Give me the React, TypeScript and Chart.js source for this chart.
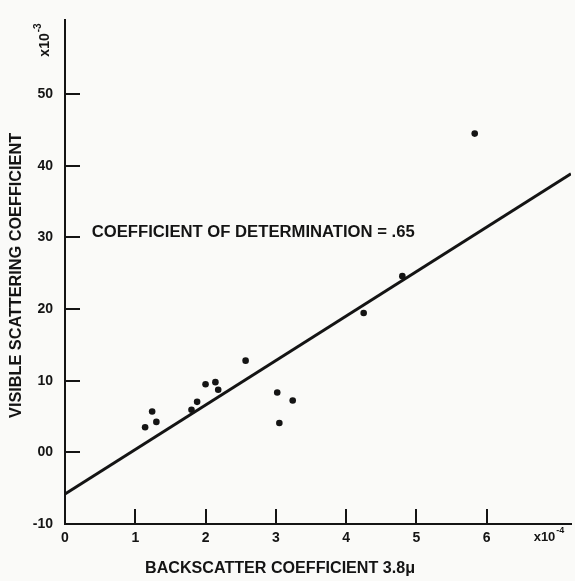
import React, { useEffect, useRef } from "react";
import { Chart, registerables } from "chart.js";
Chart.register(...registerables);

// ---- data ----
const backscatterX = [1.14, 1.24, 1.3, 1.8, 1.88, 2.0, 2.14, 2.18, 2.57, 3.02, 3.05, 3.24, 4.25, 4.8, 5.83];
const visibleY = [3.5, 5.7, 4.25, 5.95, 7.05, 9.5, 9.8, 8.75, 12.8, 8.35, 4.1, 7.25, 19.45, 24.6, 44.5];
const fitX = [0, 7.2];
const fitY = [-5.8, 38.9];
const xTicks = [0, 1, 2, 3, 4, 5, 6];
const xTickLabels = ["0", "1", "2", "3", "4", "5", "6"];
const yTicks = [-10, 0, 10, 20, 30, 40, 50];
const yTickLabels = ["-10", "00", "10", "20", "30", "40", "50"];
const xTitle = "BACKSCATTER COEFFICIENT 3.8\u03bc";
const yTitle = "VISIBLE SCATTERING COEFFICIENT";
const annotationText = "COEFFICIENT OF DETERMINATION = .65";
const annotationAt = [0.38, 30.7];
const xMultiplier = ["x10", "-4"];
const yMultiplier = ["x10", "-3"];

const FONT = "'Liberation Sans', Arial, Helvetica, sans-serif";
const INK = "#141414";

function drawStretched(ctx: CanvasRenderingContext2D, text: string, cx: number, cy: number, size: number, target: number, rot: number) {
  ctx.save();
  ctx.font = `bold ${size}px ${FONT}`;
  const w = ctx.measureText(text).width;
  ctx.translate(cx, cy);
  ctx.rotate(rot);
  ctx.scale(target / w, 1);
  ctx.textAlign = "center";
  ctx.textBaseline = "middle";
  ctx.fillStyle = INK;
  ctx.fillText(text, 0, 0);
  ctx.restore();
}

function drawMultiplier(ctx: CanvasRenderingContext2D, parts: string[], x: number, y: number, rot: number, size: number) {
  const sup = Math.round(size * 0.7);
  ctx.save();
  ctx.translate(x, y);
  ctx.rotate(rot);
  ctx.fillStyle = INK;
  ctx.textBaseline = "middle";
  ctx.textAlign = "left";
  ctx.font = `bold ${size}px ${FONT}`;
  const w1 = ctx.measureText(parts[0]).width;
  ctx.font = `bold ${sup}px ${FONT}`;
  const w2 = ctx.measureText(parts[1]).width;
  const start = -(w1 + w2 + 1) / 2;
  ctx.font = `bold ${size}px ${FONT}`;
  ctx.fillText(parts[0], start, 0);
  ctx.font = `bold ${sup}px ${FONT}`;
  ctx.fillText(parts[1], start + w1 + 1, -size * 0.5);
  ctx.restore();
}

const decorPlugin = {
  id: "decor",
  beforeDraw(chart: any) {
    const ctx = chart.ctx as CanvasRenderingContext2D;
    ctx.save();
    ctx.fillStyle = "#fafaf8";
    ctx.fillRect(0, 0, chart.width, chart.height);
    ctx.restore();
  },
  afterDraw(chart: any) {
    const ctx = chart.ctx as CanvasRenderingContext2D;
    const xs = chart.scales.x;
    const ys = chart.scales.y;
    const area = chart.chartArea;
    ctx.save();
    ctx.strokeStyle = INK;
    ctx.lineWidth = 2;
    ctx.beginPath();
    yTicks.forEach((v) => {
      if (v === yTicks[0]) return;
      const py = Math.round(ys.getPixelForValue(v));
      ctx.moveTo(area.left, py);
      ctx.lineTo(area.left + 15, py);
    });
    xTicks.forEach((v) => {
      if (v === xTicks[0]) return;
      const px = Math.round(xs.getPixelForValue(v));
      ctx.moveTo(px, area.bottom);
      ctx.lineTo(px, area.bottom - 15);
    });
    ctx.stroke();
    ctx.restore();

    // annotation
    const target = 323;
    drawStretched(ctx, annotationText, xs.getPixelForValue(annotationAt[0]) + target / 2, ys.getPixelForValue(annotationAt[1]), 16, target, 0);

    // axis titles
    drawStretched(ctx, xTitle, xs.getPixelForValue(3.06), chart.height - 12, 16, 270, 0);
    drawStretched(ctx, yTitle, 17, ys.getPixelForValue(24.7), 16, 285, -Math.PI / 2);

    // multipliers
    drawMultiplier(ctx, xMultiplier, 549, 537, 0, 13);
    drawMultiplier(ctx, yMultiplier, 45, 40, -Math.PI / 2, 14);
  },
};

export default function App() {
  const ref = useRef<HTMLCanvasElement | null>(null);
  useEffect(() => {
    document.body.style.margin = "0";
    const canvas = ref.current;
    if (!canvas) return;
    const points = backscatterX.map((x, i) => ({ x, y: visibleY[i] }));
    const fit = fitX.map((x, i) => ({ x, y: fitY[i] }));
    const chart = new Chart(canvas, {
      type: "scatter",
      data: {
        datasets: [
          {
            type: "line",
            data: fit,
            borderColor: INK,
            borderWidth: 3,
            pointRadius: 0,
            showLine: true,
            fill: false,
          } as any,
          {
            type: "scatter",
            data: points,
            backgroundColor: INK,
            borderColor: INK,
            borderWidth: 0,
            pointRadius: 3.3,
          },
        ],
      },
      options: {
        responsive: false,
        animation: false,
        events: [],
        layout: { padding: { top: 12, right: 0, left: 0, bottom: 0 } },
        plugins: { legend: { display: false }, tooltip: { enabled: false } },
        scales: {
          x: {
            type: "linear",
            min: 0,
            max: 7.2,
            grid: { display: false, drawTicks: false },
            border: { display: true, color: INK, width: 2 },
            afterBuildTicks: (s: any) => {
              s.ticks = xTicks.map((v) => ({ value: v }));
            },
            afterFit: (s: any) => {
              s.height = 57;
            },
            ticks: {
              autoSkip: false,
              maxRotation: 0,
              padding: 6,
              color: INK,
              font: { family: FONT, size: 14, weight: "bold" },
              callback: (v: any) => {
                const i = xTicks.indexOf(Number(v));
                return i >= 0 ? xTickLabels[i] : "";
              },
            },
          },
          y: {
            type: "linear",
            min: -10,
            max: 60.3,
            grid: { display: false, drawTicks: false },
            border: { display: true, color: INK, width: 2 },
            afterBuildTicks: (s: any) => {
              s.ticks = yTicks.map((v) => ({ value: v }));
            },
            afterFit: (s: any) => {
              s.width = 65;
            },
            ticks: {
              autoSkip: false,
              padding: 12,
              color: INK,
              font: { family: FONT, size: 14, weight: "bold" },
              callback: (v: any) => {
                const i = yTicks.indexOf(Number(v));
                return i >= 0 ? yTickLabels[i] : "";
              },
            },
          },
        },
      },
      plugins: [decorPlugin],
    });
    return () => chart.destroy();
  }, []);
  return <canvas ref={ref} width={575} height={581} style={{ display: "block", width: 575, height: 581 }} />;
}
